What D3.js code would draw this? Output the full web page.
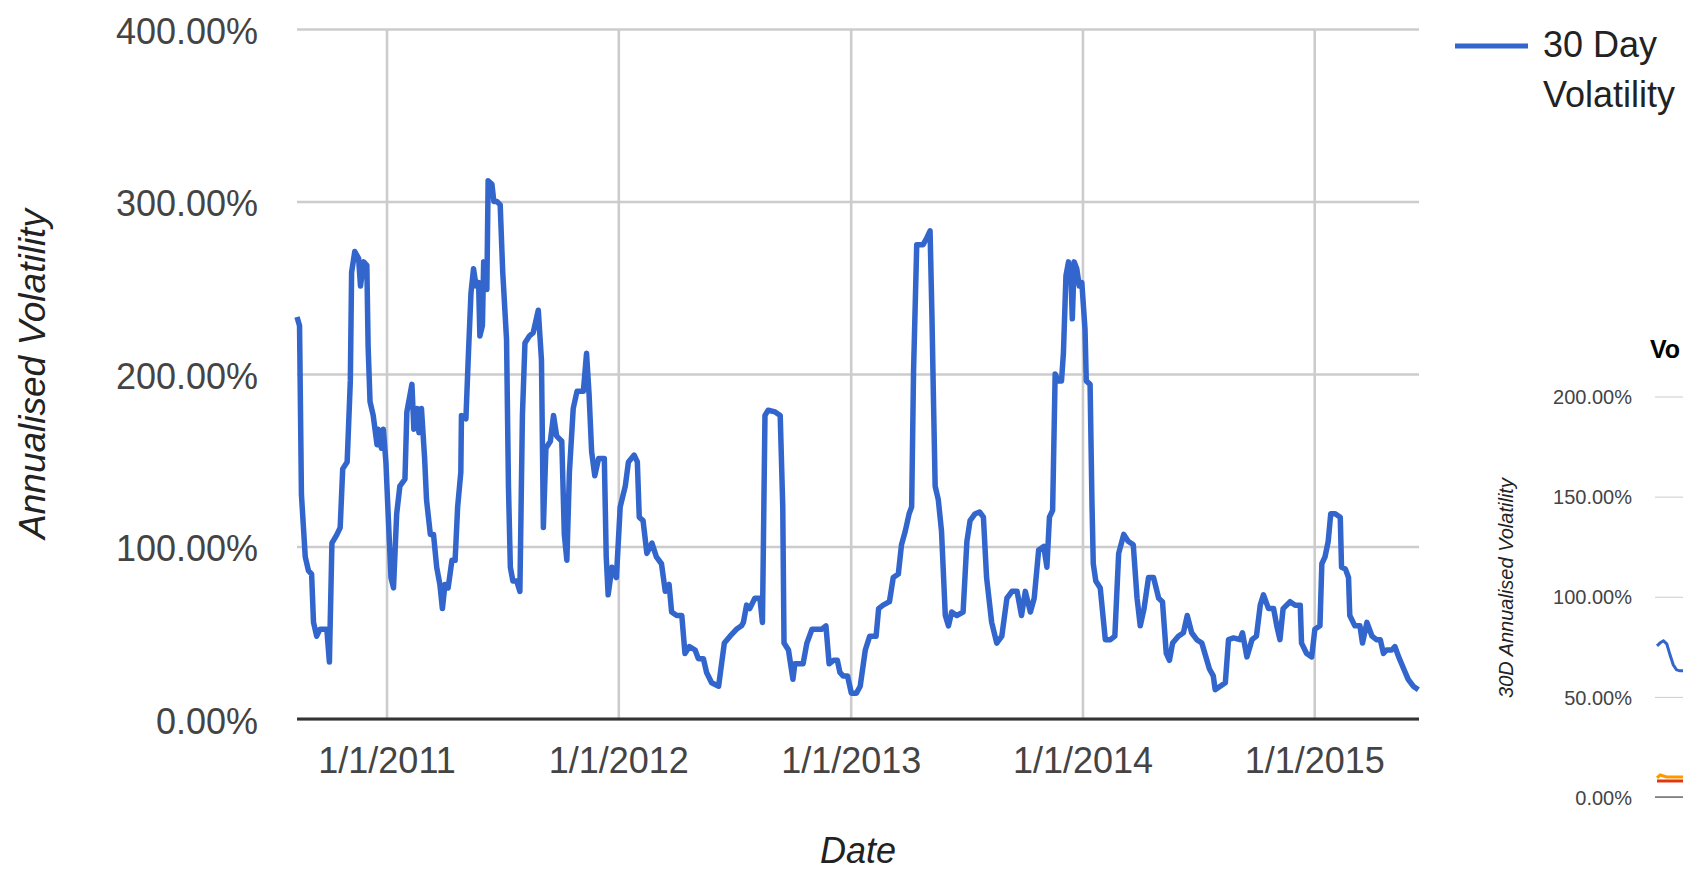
<!DOCTYPE html>
<html>
<head>
<meta charset="utf-8" />
<title>30 Day Volatility</title>
<script src="https://cdn.jsdelivr.net/npm/d3@7"></script>
<style>
  body { margin: 0; background: #fff; overflow: hidden; }
  svg { display: block; font-family: "Liberation Sans", Arial, sans-serif; }
  .grid line { stroke: #ccc; stroke-width: 2.6px; }
  .grid .tick text { fill: #444; font-size: 36px; }
</style>
</head>
<body>
<div id="chart"></div>
<script>
// series: days since the first sample, and 30 day annualised volatility (%)
const startDate = "2010-08-13";
const endDate = "2015-06-15";
const dayOffsets = [
  0,4,7,13,18,23,26,31,36,47,51,55,63,68,72,79,84,86,91,97,100,105,110,112,115,120,126,128,133,136,
  140,144,148,152,157,162,170,173,181,184,189,192,196,201,204,210,215,220,225,229,233,238,244,249,253,258,259,266,270,274,
  278,282,286,288,292,294,299,301,307,310,315,320,324,330,333,336,340,346,351,
  355,359,366,372,380,385,388,392,399,404,409,417,421,425,429,435,441,451,456,460,464,469,475,484,487,490,496,503,509,517,
  522,531,536,539,545,551,559,566,574,580,586,590,598,606,611,618,627,632,640,645,653,664,669,673,682,692,700,703,708,
  713,721,729,733,737,742,753,761,765,767,774,781,784,797,803,811,818,826,833,838,845,851,855,860,867,873,881,887,895,902,
  912,916,923,933,939,947,952,958,964,968,971,976,986,992,997,1000,1002,1005,1010,1015,1021,1026,1031,1039,1049,1055,1060,1068,1075,
  1081,1086,1094,1102,1110,1118,1126,1134,1141,1147,1155,1161,1168,1176,1181,1185,1190,1194,1199,1204,1207,1211,1215,1219,1221,1224,1228,1232,1236,1241,
  1243,1249,1252,1254,1258,1265,1273,1281,1288,1294,1302,1309,1317,1323,1328,1334,1341,1349,1357,1363,1369,1374,1379,1388,1396,1402,1409,1417,1425,1433,1437,
  1443,1446,1454,1462,1467,1475,1485,1489,1496,1504,1511,1517,1522,1530,1538,1543,1548,1553,1564,1572,1580,1582,1590,1598,1603,1611,1614,1619,1624,1628,
  1635,1643,1645,1651,1656,1658,1666,1674,1678,1685,1693,1700,1706,1711,1716,1724,1729,1735,1743,1750,1758,1766
];
const volatility = [
  233,228,130,94,86,84,56,48,52,52,33,102,107,111,145,149,196,259,271,267,251,265,263,216,184,176,159,168,157,168,
  149,115,82,76,119,135,139,178,194,168,180,166,180,151,127,107,107,88,78,64,78,76,92,92,123,143,176,174,212,247,
  261,251,253,222,228,265,249,312,310,300,300,298,259,220,135,88,80,80,74,
  176,218,222,224,237,208,111,157,161,176,164,161,107,92,143,180,190,190,212,188,155,141,151,151,94,72,88,82,123,135,
  149,153,149,117,115,96,102,94,90,74,78,62,60,60,38,42,40,35,35,27,21,19,33,44,48,52,54,56,66,
  64,70,70,56,176,179,178,176,123,44,40,23,32,32,44,52,52,52,54,32,34,34,27,25,25,15,15,19,40,48,
  48,64,66,68,82,84,101,109,119,123,202,275,275,279,283,233,192,135,127,109,60,54,62,60,62,103,115,119,120,
  117,82,56,44,48,70,74,74,60,74,62,70,98,100,88,117,121,200,196,196,212,257,265,255,232,265,261,251,253,226,
  196,194,125,90,80,76,46,46,48,96,107,103,101,70,54,64,82,82,70,68,38,34,44,48,50,60,50,46,44,34,29,
  25,17,19,21,46,47,46,50,36,46,48,66,72,64,64,54,46,64,68,66,66,44,38,36,52,54,90,94,103,119,
  119,117,88,87,82,60,54,54,44,56,48,46,46,38,40,40,42,36,29,23,19,17
];
const xTickDates = ["2011-01-01", "2012-01-01", "2013-01-01", "2014-01-01", "2015-01-01"];
const yTicks = [0, 100, 200, 300, 400];
const seriesName = ["30 Day", "Volatility"];

// partly visible second chart on the right edge
const insetTicks = [0, 50, 100, 150, 200];
const insetIndex = [0, 1, 2, 3, 4, 5, 6, 7, 8];
const insetBlue = [75.5, 77, 78, 76.5, 71, 66, 63.5, 63, 63];
const insetOrange = [9.5, 11, 10.5, 10, 10, 10, 10, 10, 10];
const insetRed = [8, 8, 8, 8, 8, 8, 8, 8, 8];

const W = 1683, H = 871;
const plotL = 297, plotR = 1419, plotT = 29, plotB = 719;

const parse = d3.timeParse("%Y-%m-%d");
const t0 = parse(startDate);
const data = dayOffsets.map((d, i) => ({ date: d3.timeDay.offset(t0, d), v: volatility[i] }))
  .filter(d => d.v != null);

const svg = d3.select("#chart").append("svg").attr("width", W).attr("height", H);

const x = d3.scaleTime().domain([t0, parse(endDate)]).range([plotL, plotR]);
const y = d3.scaleLinear().domain([0, 400]).range([plotB, plotT]);

// y gridlines + labels
svg.append("g")
  .attr("class", "grid")
  .attr("transform", `translate(${plotL},0)`)
  .call(d3.axisLeft(y).tickValues(yTicks).tickSize(-(plotR - plotL)).tickPadding(39)
    .tickFormat(d => d3.format(".2f")(d) + "%"))
  .call(g => g.select(".domain").remove())
  .call(g => g.selectAll("text").attr("dy", "0.39em"));

// x gridlines + labels
svg.append("g")
  .attr("class", "grid")
  .attr("transform", `translate(0,${plotB})`)
  .call(d3.axisBottom(x).tickValues(xTickDates.map(parse)).tickSize(-(plotB - plotT)).tickPadding(28)
    .tickFormat(d3.timeFormat("%-m/%-d/%Y")))
  .call(g => g.select(".domain").remove());

// baseline
svg.append("line")
  .attr("x1", plotL).attr("x2", plotR)
  .attr("y1", y(0)).attr("y2", y(0))
  .attr("stroke", "#333").attr("stroke-width", 3.2);

const line = d3.line().x(d => x(d.date)).y(d => y(d.v));

svg.append("path")
  .datum(data)
  .attr("fill", "none")
  .attr("stroke", "#3366cc")
  .attr("stroke-width", 5.5)
  .attr("stroke-linejoin", "round")
  .attr("d", line);

// axis titles
svg.append("text")
  .attr("transform", `translate(45,${(plotT + plotB) / 2}) rotate(-90)`)
  .attr("text-anchor", "middle")
  .attr("font-style", "italic")
  .attr("font-size", 37)
  .attr("fill", "#222")
  .text("Annualised Volatility");

svg.append("text")
  .attr("x", (plotL + plotR) / 2).attr("y", 863)
  .attr("text-anchor", "middle")
  .attr("font-style", "italic")
  .attr("font-size", 36)
  .attr("fill", "#222")
  .text("Date");

// legend
svg.append("line")
  .attr("x1", 1455).attr("x2", 1528).attr("y1", 46).attr("y2", 46)
  .attr("stroke", "#3366cc").attr("stroke-width", 5);
svg.append("text")
  .attr("x", 1543).attr("y", 57)
  .attr("font-size", 36).attr("fill", "#222")
  .selectAll("tspan").data(seriesName).join("tspan")
  .attr("x", 1543).attr("dy", (d, i) => i ? 50 : 0)
  .text(d => d);

// inset chart (cut off by the right edge)
const ins = svg.append("g");
const y2 = d3.scaleLinear().domain([0, 200]).range([797, 396.5]);
const x2 = d3.scaleLinear().domain([0, 8]).range([1657, 1683]);

ins.append("g")
  .attr("transform", "translate(1655,0)")
  .call(d3.axisLeft(y2).tickValues(insetTicks).tickSize(-40).tickPadding(23)
    .tickFormat(d => d3.format(".2f")(d) + "%"))
  .call(g => g.select(".domain").remove())
  .call(g => g.selectAll("line").attr("stroke", "#ccc"))
  .call(g => g.selectAll("text").attr("font-size", 20).attr("fill", "#444").attr("dy", "0.36em"));

ins.append("line")
  .attr("x1", 1655).attr("x2", 1695).attr("y1", y2(0)).attr("y2", y2(0))
  .attr("stroke", "#333").attr("stroke-width", 1.2);

const line2 = vals => d3.line().x((d, i) => x2(insetIndex[i])).y(d => y2(d))(vals);
[[insetRed, "#dc3912"], [insetOrange, "#ff9900"], [insetBlue, "#3366cc"]].forEach(([vals, c]) => {
  ins.append("path")
    .attr("d", line2(vals))
    .attr("fill", "none").attr("stroke", c).attr("stroke-width", 3);
});

ins.append("text")
  .attr("x", 1650).attr("y", 358)
  .attr("font-size", 25).attr("font-weight", "bold").attr("fill", "#000")
  .text("Vo");

ins.append("text")
  .attr("transform", `translate(1513,588) rotate(-90)`)
  .attr("text-anchor", "middle")
  .attr("font-style", "italic")
  .attr("font-size", 20)
  .attr("fill", "#222")
  .text("30D Annualised Volatility");
</script>
</body>
</html>
